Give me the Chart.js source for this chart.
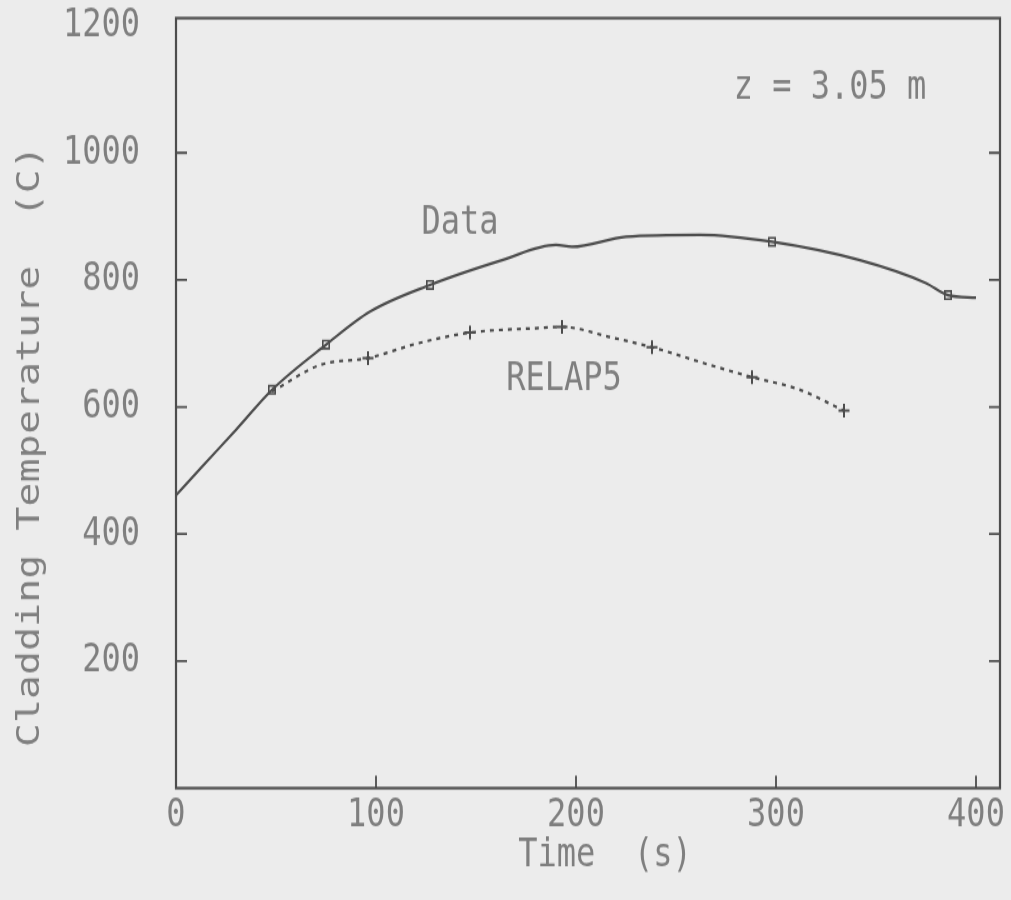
<!DOCTYPE html>
<html>
<head>
<meta charset="utf-8">
<title>Cladding Temperature, z = 3.05 m</title>
<script src="https://cdn.jsdelivr.net/npm/chart.js@4.4.1/dist/chart.umd.min.js"></script>
<style>
  html, body { margin: 0; padding: 0; background: #ececec; }
</style>
</head>
<body>
<!-- the scanned figure is stretched vertically: draw at 720 high, show it 900 high -->
<canvas id="chart" width="1011" height="720" style="display:block;width:1011px;height:900px"></canvas>
<script>
  const dataTime = [0, 13, 30, 48, 75, 97, 127, 163, 190, 198, 225, 262, 298, 342, 375, 386, 400];
  const dataTemp = [461, 506, 564, 627, 698, 750, 792, 831, 855, 852, 868, 871, 860, 831, 795, 776, 772];
  const dataMarks = [48, 75, 127, 298, 386];

  const relapTime = [48, 72, 96, 122, 147, 180, 193, 217, 238, 267, 288, 312, 334];
  const relapTemp = [624, 666, 677, 701, 717, 724, 726, 710, 694, 666, 647, 627, 594];
  const relapMarks = [96, 147, 193, 238, 288, 334];

  const xTicks = [0, 100, 200, 300, 400];
  const yTicks = [200, 400, 600, 800, 1000, 1200];

  const xTitle = 'Time  (s)';
  const yTitle = 'Cladding Temperature  (C)';
  const notes = [
    { text: 'Data', t: 142, temp: 888 },
    { text: 'RELAP5', t: 194, temp: 643 },
    { text: 'z = 3.05 m', t: 327, temp: 1101 },
  ];

  const ink = '#4d4d4d';
  const textGray = '#7f7f7f';
  const font = { family: '"DejaVu Sans Mono", monospace', size: 32, lineHeight: 0.8 };
  const clear = 'rgba(0,0,0,0)';

  function pairs(xs, ys) {
    return xs.map((x, i) => ({ x, y: ys[i] }));
  }

  function markRadius(marks, r) {
    return (ctx) => (ctx.raw && marks.includes(ctx.raw.x) ? r : 0);
  }

  const paperPlugin = {
    id: 'paper',
    afterDraw(chart) {
      const { ctx, chartArea: a, scales: { x, y } } = chart;
      ctx.save();
      ctx.strokeStyle = ink;
      ctx.lineWidth = 2.2;
      ctx.strokeRect(a.left, a.top, a.right - a.left, a.bottom - a.top);

      // inward tick marks on left, right and bottom
      ctx.lineWidth = 1.8;
      ctx.beginPath();
      yTicks.filter((v) => v < 1200).forEach((v) => {
        const py = y.getPixelForValue(v);
        ctx.moveTo(a.left, py);
        ctx.lineTo(a.left + 11, py);
        ctx.moveTo(a.right, py);
        ctx.lineTo(a.right - 11, py);
      });
      xTicks.filter((v) => v > 0).forEach((v) => {
        const px = x.getPixelForValue(v);
        ctx.moveTo(px, a.bottom);
        ctx.lineTo(px, a.bottom - 10);
      });
      ctx.stroke();

      ctx.fillStyle = textGray;
      ctx.font = `32px ${font.family}`;
      ctx.textAlign = 'center';
      ctx.textBaseline = 'middle';
      notes.forEach((n) => {
        ctx.fillText(n.text, x.getPixelForValue(n.t), y.getPixelForValue(n.temp));
      });
      ctx.fillText(xTitle, 605, 685);

      ctx.translate(31, 357);
      ctx.rotate(-Math.PI / 2);
      ctx.fillText(yTitle, 0, 0);
      ctx.restore();
    },
  };

  new Chart(document.getElementById('chart'), {
    type: 'line',
    data: {
      datasets: [
        {
          label: 'Data',
          data: pairs(dataTime, dataTemp),
          borderColor: ink,
          borderWidth: 2.2,
          cubicInterpolationMode: 'monotone',
          pointStyle: 'rect',
          pointRadius: markRadius(dataMarks, 4.5),
          pointBorderColor: ink,
          pointBackgroundColor: clear,
          pointBorderWidth: 1.6,
        },
        {
          label: 'RELAP5',
          data: pairs(relapTime, relapTemp),
          borderColor: ink,
          borderWidth: 2.2,
          borderDash: [4, 5],
          cubicInterpolationMode: 'monotone',
          pointStyle: 'cross',
          pointRadius: markRadius(relapMarks, 5.5),
          pointBorderColor: ink,
          pointBorderWidth: 2,
        },
      ],
    },
    options: {
      responsive: false,
      devicePixelRatio: 1,
      animation: false,
      events: [],
      layout: { padding: { top: 14.5, right: 11, bottom: 0, left: 0 } },
      plugins: { legend: { display: false }, tooltip: { enabled: false } },
      scales: {
        x: {
          type: 'linear',
          min: 0,
          max: 412,
          afterBuildTicks: (s) => { s.ticks = xTicks.map((value) => ({ value })); },
          afterFit: (s) => { s.height = 89.5; },
          // invisible tick marks only push the labels away from the frame
          grid: { drawOnChartArea: false, drawTicks: true, tickLength: 9, tickColor: clear, color: clear },
          border: { display: false },
          ticks: { color: textGray, font, padding: 0, maxRotation: 0, autoSkip: false, callback: (v) => String(v) },
        },
        y: {
          min: 0,
          max: 1212,
          afterBuildTicks: (s) => { s.ticks = yTicks.map((value) => ({ value })); },
          afterFit: (s) => { s.width = 176; },
          grid: { drawOnChartArea: false, drawTicks: true, tickLength: 36, tickColor: clear, color: clear },
          border: { display: false },
          ticks: { color: textGray, font, padding: 0, autoSkip: false, callback: (v) => String(v) },
        },
      },
    },
    plugins: [paperPlugin],
  });
</script>
</body>
</html>
